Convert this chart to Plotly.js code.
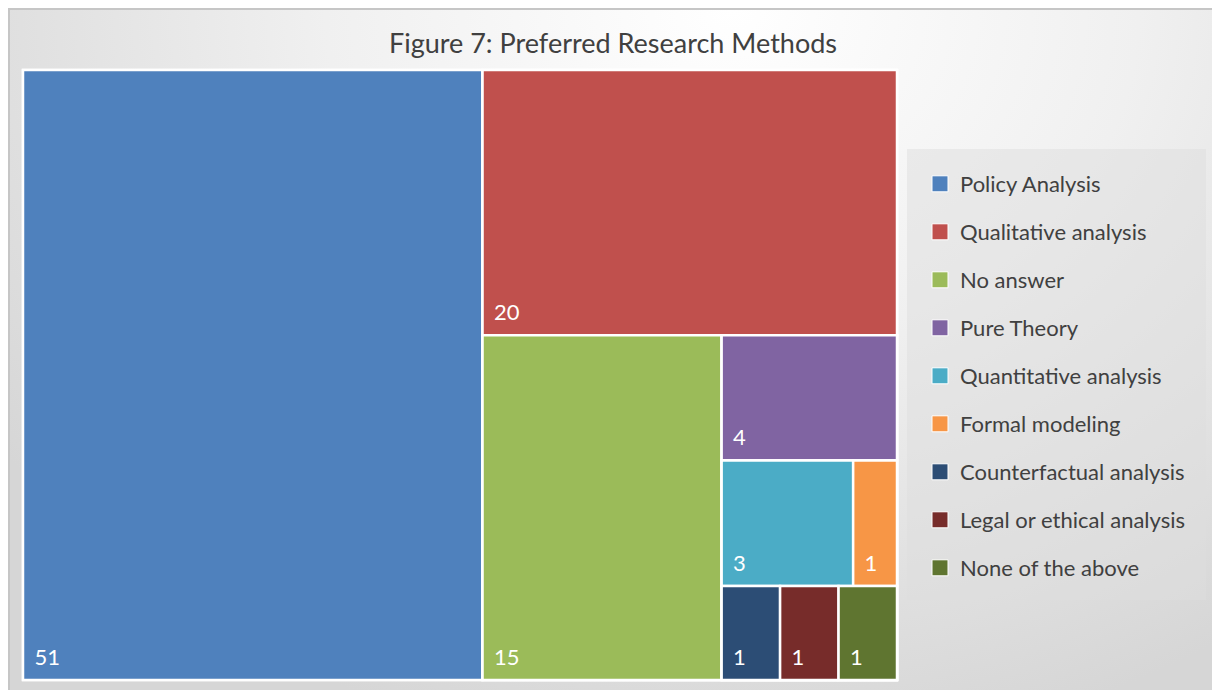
<!DOCTYPE html>
<html>
<head>
<meta charset="utf-8">
<script src="https://cdn.plot.ly/plotly-3.0.1.min.js"></script>
<style>
  html, body { margin: 0; padding: 0; background: #ffffff; }
  #frame {
    position: absolute; left: 8px; top: 8px; width: 1204px; height: 682px;
    border-top: 2px solid #c6c6c6; border-left: 2px solid #c6c6c6;
    background: radial-gradient(ellipse 75% 110% at 60% 0%, #ffffff 0%, #f0f0f0 45%, #d6d6d6 100%);
  }
  #chart { position: absolute; left: 0; top: 0; width: 1212px; height: 690px; }
</style>
</head>
<body>
<div id="frame"></div>
<div id="chart"></div>
<script>
// ---- data ----
var categories = ["Policy Analysis", "Qualitative analysis", "No answer", "Pure Theory",
  "Quantitative analysis", "Formal modeling", "Counterfactual analysis",
  "Legal or ethical analysis", "None of the above"];
var values = [51, 20, 15, 4, 3, 1, 1, 1, 1];
var colors = ["#4f81bd", "#c0504d", "#9bbb59", "#8064a2", "#4bacc6", "#f79646",
  "#2c4d75", "#772c2a", "#5f7530"];
// Grouping that reproduces the spreadsheet's tiling (alternating dice/slice)
var leafParents = ["all", "g1", "g2", "g3", "g4", "g4", "g5", "g5", "g5"];
var groupIds = ["all", "g1", "g2", "g3", "g4", "g5"];
var groupParents = ["", "all", "g1", "g2", "g3", "g3"];

// ---- build hierarchy (sibling order matches drawing order) ----
var ids = [], labels = [], parents = [], vals = [], cols = [], texts = [];
function addGroup(i) {
  ids.push(groupIds[i]); labels.push(groupIds[i]); parents.push(groupParents[i]);
  vals.push(0); cols.push("rgba(255,255,255,1)"); texts.push("");
}
function addLeaf(i) {
  ids.push("leaf" + i); labels.push(categories[i]); parents.push(leafParents[i]);
  vals.push(values[i]); cols.push(colors[i]);
  texts.push("<span style='font-size:22px'>\u00a0\u2009" + values[i] + "</span><br>\u00a0");
}
addGroup(0);
addLeaf(0);
addGroup(1);
addLeaf(1);
addGroup(2);
addLeaf(2);
addGroup(3);
addLeaf(3);
addGroup(4);
addLeaf(4); addLeaf(5);
addGroup(5);
addLeaf(6); addLeaf(7); addLeaf(8);

var FONT = "Lato, 'Open Sans', sans-serif";

var traces = [{
  type: "treemap",
  ids: ids, labels: labels, parents: parents, values: vals,
  branchvalues: "remainder",
  sort: false,
  text: texts,
  texttemplate: "%{text}",
  textposition: "bottom left",
  textfont: { family: FONT, size: 8, color: "#ffffff" },
  marker: {
    colors: cols,
    depthfade: false,
    pad: { t: 0, l: 0, r: 0, b: 0 },
    line: { color: "#ffffff", width: 2.5 }
  },
  leaf: { opacity: 1 },
  tiling: { packing: "slice-dice", pad: 0 },
  pathbar: { visible: false },
  hoverinfo: "label+value",
  domain: { x: [23 / 1212, 897 / 1212], y: [1 - 680 / 690, 1 - 70 / 690] },
  showlegend: false
}];

// Legend entries via placeholder traces
for (var i = 0; i < categories.length; i++) {
  traces.push({
    type: "scatter", mode: "markers", x: [null], y: [null],
    name: categories[i], legendgroup: "g" + i,
    marker: { symbol: "square", size: 16, color: colors[i], line: { color: "#ffffff", width: 1 } },
    showlegend: true, hoverinfo: "skip"
  });
}

var layout = {
  width: 1212, height: 690,
  margin: { l: 0, r: 0, t: 0, b: 0 },
  paper_bgcolor: "rgba(0,0,0,0)",
  plot_bgcolor: "rgba(0,0,0,0)",
  title: {
    text: "Figure 7: Preferred Research Methods",
    font: { family: FONT, size: 27, color: "#404040" },
    x: 613 / 1212, xanchor: "center", y: 1 - 44 / 690, yanchor: "middle"
  },
  xaxis: { visible: false, domain: [0.9, 0.91] },
  yaxis: { visible: false, domain: [0.9, 0.91] },
  shapes: [{
    type: "rect", xref: "paper", yref: "paper", layer: "below",
    x0: 907 / 1212, x1: 1206 / 1212, y0: 1 - 600 / 690, y1: 1 - 149 / 690,
    fillcolor: "rgba(222,222,222,0.5)", line: { width: 0 }
  }],
  showlegend: true,
  legend: {
    x: 920 / 1212, xanchor: "left", y: 1 - 163 / 690, yanchor: "top",
    bgcolor: "rgba(0,0,0,0)",
    borderwidth: 0,
    font: { family: FONT, size: 22, color: "#404040" },
    traceorder: "grouped", tracegroupgap: 16.4,
    itemsizing: "trace", itemwidth: 30
  },
  hovermode: false
};

Plotly.newPlot("chart", traces, layout, { displayModeBar: false, staticPlot: true });
</script>
</body>
</html>
